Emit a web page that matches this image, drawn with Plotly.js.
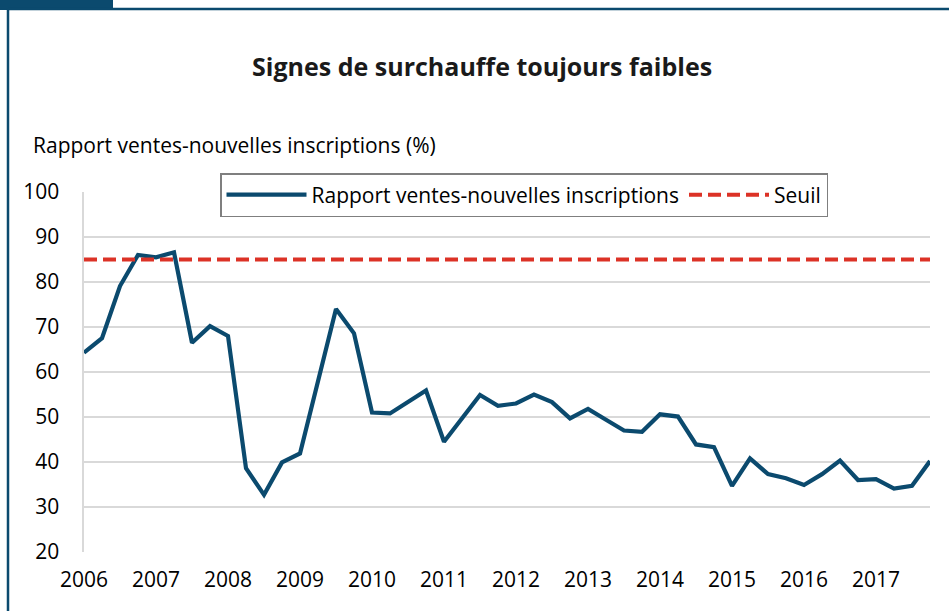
<!DOCTYPE html>
<html>
<head>
<meta charset="utf-8">
<script src="https://cdn.plot.ly/plotly-3.0.1.min.js"></script>
<style>html,body{margin:0;padding:0;background:#fff;}#chart{width:949px;height:611px;}</style>
</head>
<body>
<div id="chart"></div>
<script>
// ---- Data ----
const years = [2006, 2007, 2008, 2009, 2010, 2011, 2012, 2013, 2014, 2015, 2016, 2017];
const quarterNames = ["T1", "T2", "T3", "T4"];
const ratio = [
  64.3, 67.5, 79.1, 86.0,
  85.5, 86.6, 66.5, 70.2,
  68.0, 38.6, 32.7, 39.9,
  41.9, 58.2, 74.0, 68.6,
  51.0, 50.8, 53.3, 55.9,
  44.5, 49.8, 54.9, 52.5,
  53.0, 55.0, 53.3, 49.7,
  51.8, 49.4, 47.0, 46.7,
  50.6, 50.1, 43.9, 43.3,
  34.7, 40.8, 37.3, 36.4,
  34.9, 37.3, 40.3, 36.0,
  36.2, 34.1, 34.7, 40.2
];
const seuil = 85;
const seriesNames = ["Rapport ventes-nouvelles inscriptions", "Seuil"];
const titleText = "Signes de surchauffe toujours faibles";
const yAxisLabel = "Rapport ventes-nouvelles inscriptions (%)";
const yTicks = [20, 30, 40, 50, 60, 70, 80, 90, 100];

// ---- Build ----
const quarters = [];
years.forEach(y => quarterNames.forEach(q => quarters.push(y + " " + q)));
const yearTickVals = years.map(y => y + " " + quarterNames[0]);
const yearTickText = years.map(String);

const FONT = "'Open Sans', Lato, 'DejaVu Sans', sans-serif";
const NAVY = "#0b4a6e";
const RED = "#dc3226";

const traces = [
  {
    x: quarters, y: ratio, type: "scatter", mode: "lines",
    name: seriesNames[0],
    line: {color: NAVY, width: 4.2}
  },
  {
    x: quarters, y: quarters.map(() => seuil), type: "scatter", mode: "lines",
    name: seriesNames[1],
    line: {color: RED, width: 4, dash: "13px,6px"}
  }
];

const layout = {
  width: 949, height: 611,
  margin: {l: 84, r: 19, t: 192, b: 59},
  paper_bgcolor: "#fff", plot_bgcolor: "#fff",
  font: {family: FONT, size: 21, color: "#000"},
  title: {
    text: "<b>" + titleText + "</b>",
    font: {family: FONT, size: 25, color: "#1a1a1a"},
    x: 0.508, xanchor: "center", xref: "container",
    y: 1 - 67 / 611, yanchor: "middle", yref: "container"
  },
  showlegend: true,
  legend: {
    orientation: "h",
    x: (220 - 84) / 846, xanchor: "left",
    y: (552 - 173) / 360, yanchor: "top",
    bgcolor: "#fff", bordercolor: "#7f7f7f", borderwidth: 1.5,
    font: {family: FONT, size: 21, color: "#000"},
    itemwidth: 80,
    traceorder: "normal"
  },
  xaxis: {
    type: "category",
    categoryorder: "array", categoryarray: quarters,
    range: [0, quarters.length - 1],
    tickmode: "array", tickvals: yearTickVals, ticktext: yearTickText,
    showgrid: false, zeroline: false, showline: false,
    ticks: "", ticklabelstandoff: 13,
    tickfont: {family: FONT, size: 21, color: "#000"},
    fixedrange: true
  },
  yaxis: {
    range: [20, 100],
    tickmode: "array", tickvals: yTicks,
    showgrid: true, gridcolor: "#d9d9d9", gridwidth: 1.6,
    zeroline: false,
    showline: true, linecolor: "#d9d9d9", linewidth: 1.6,
    ticks: "", ticklabelstandoff: 19,
    tickfont: {family: FONT, size: 21, color: "#000"},
    fixedrange: true
  },
  annotations: [
    {
      text: yAxisLabel, xref: "paper", yref: "paper",
      x: (31 - 84) / 846, xanchor: "left",
      y: (552 - 145) / 360, yanchor: "middle",
      showarrow: false, font: {family: FONT, size: 21, color: "#000"}
    }
  ],
  shapes: [
    {type: "rect", xref: "paper", yref: "paper",
     x0: (0 - 84) / 846, x1: (113 - 84) / 846, y0: (552 - 10) / 360, y1: (552 + 2) / 360,
     fillcolor: NAVY, line: {width: 0}, layer: "above"},
    {type: "line", xref: "paper", yref: "paper",
     x0: (8 - 84) / 846, x1: (960 - 84) / 846, y0: (552 - 9) / 360, y1: (552 - 9) / 360,
     line: {color: NAVY, width: 2.5}},
    {type: "line", xref: "paper", yref: "paper",
     x0: (8 - 84) / 846, x1: (8 - 84) / 846, y0: (552 - 9) / 360, y1: (552 - 620) / 360,
     line: {color: NAVY, width: 2.5}}
  ]
};

Plotly.newPlot("chart", traces, layout, {displayModeBar: false, staticPlot: true});
</script>
</body>
</html>
